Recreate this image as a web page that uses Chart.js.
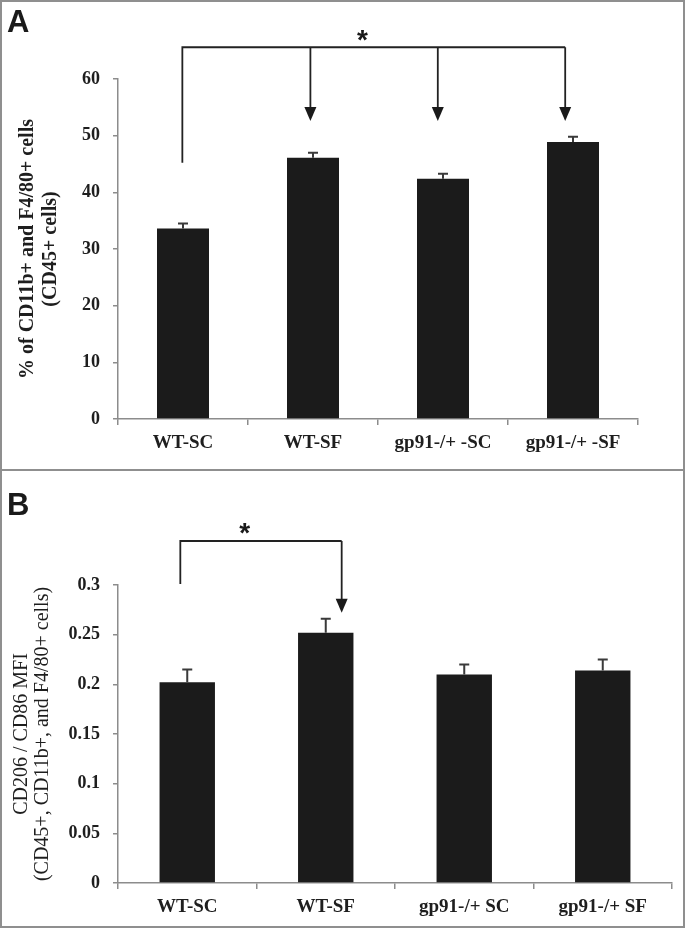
<!DOCTYPE html>
<html>
<head>
<meta charset="utf-8">
<script src="https://cdn.jsdelivr.net/npm/chart.js@4.4.1/dist/chart.umd.min.js"></script>
<style>
  body { margin: 0; background: #fff; }
  #page { position: relative; width: 685px; height: 928px; background: #fff; }
  canvas { position: absolute; left: 0; }
  #chartA { top: 0; }
  #chartB { top: 469px; }
  .frame { position: absolute; border: 2px solid #8f8f8f; box-sizing: border-box; pointer-events: none; }
</style>
</head>
<body>
<div id="page">
  <canvas id="chartA" width="685" height="469"></canvas>
  <canvas id="chartB" width="685" height="459"></canvas>
  <div class="frame" style="left:0;top:0;width:685px;height:471px"></div>
  <div class="frame" style="left:0;top:469px;width:685px;height:459px"></div>
</div>
<script>
// panel A data
var categoriesA = ['WT-SC', 'WT-SF', 'gp91-/+ -SC', 'gp91-/+ -SF'];
var valuesA = [33.6, 46.1, 42.4, 48.9];
var errorsA = [0.9, 0.9, 0.9, 0.9];
var yTicksA = [0, 10, 20, 30, 40, 50, 60];

// panel B data
var categoriesB = ['WT-SC', 'WT-SF', 'gp91-/+ SC', 'gp91-/+ SF'];
var valuesB = [0.202, 0.252, 0.210, 0.214];
var errorsB = [0.013, 0.014, 0.010, 0.011];
var yTicksB = [0, 0.05, 0.1, 0.15, 0.2, 0.25, 0.3];

// significance brackets (x in category index, y in axis units)
var sigA = { from: -0.005, to: [0.98, 1.96, 2.94], top: 65.6, fromBottom: 45.2, tip: 52.6, starX: 1.38, starY: 67.6 };
var sigB = { from: -0.05, to: [1.115], top: 0.3443, fromBottom: 0.301, tip: 0.272, starX: 0.415, starY: 0.356 };

var axisColor = '#8c8c8c';
var textColor = '#1e1e1e';

// 에러바 + 별표 + 패널 문자 그리는 플러그인
var extrasPlugin = {
  id: 'extras',
  afterDatasetsDraw: function(chart) {
    var o = chart.options.plugins.extras;
    var ctx = chart.ctx;
    var ys = chart.scales.y;
    var meta = chart.getDatasetMeta(0);
    ctx.save();
    ctx.strokeStyle = '#3a3a3a';
    ctx.lineWidth = 2;
    meta.data.forEach(function(bar, i) {
      var v = chart.data.datasets[0].data[i];
      var yTop = ys.getPixelForValue(v + o.errors[i]);
      var yBase = ys.getPixelForValue(v);
      ctx.beginPath();
      ctx.moveTo(bar.x, yBase);
      ctx.lineTo(bar.x, yTop);
      ctx.moveTo(bar.x - 5, yTop);
      ctx.lineTo(bar.x + 5, yTop);
      ctx.stroke();
    });
    ctx.restore();
  },
  afterDraw: function(chart) {
    var o = chart.options.plugins.extras;
    var sig = o.sig;
    var ctx = chart.ctx;
    var xs = chart.scales.x, ys = chart.scales.y;
    var x0 = xs.getPixelForValue(sig.from);
    var yTop = ys.getPixelForValue(sig.top);
    var tip = ys.getPixelForValue(sig.tip);
    var xEnds = sig.to.map(function(v) { return xs.getPixelForValue(v); });

    ctx.save();
    ctx.strokeStyle = '#222';
    ctx.fillStyle = '#1a1a1a';
    ctx.lineWidth = 1.8;
    ctx.beginPath();
    ctx.moveTo(x0, ys.getPixelForValue(sig.fromBottom));
    ctx.lineTo(x0, yTop);
    ctx.lineTo(xEnds[xEnds.length - 1], yTop);
    ctx.stroke();
    xEnds.forEach(function(x) {
      ctx.beginPath();
      ctx.moveTo(x, yTop);
      ctx.lineTo(x, tip - 10);
      ctx.stroke();
      ctx.beginPath();
      ctx.moveTo(x - 6, tip - 14);
      ctx.lineTo(x + 6, tip - 14);
      ctx.lineTo(x, tip);
      ctx.closePath();
      ctx.fill();
    });

    ctx.font = 'bold 28px "Liberation Sans"';
    ctx.textAlign = 'center';
    ctx.textBaseline = 'middle';
    ctx.fillText('*', xs.getPixelForValue(sig.starX), ys.getPixelForValue(sig.starY) + 5);

    // 패널 문자
    ctx.font = 'bold 31px "Liberation Sans"';
    ctx.textAlign = 'left';
    ctx.textBaseline = 'alphabetic';
    ctx.fillText(o.letter, 7, o.letterY);
    ctx.restore();
  }
};

function makeChart(canvasId, cats, vals, errs, yTicks, yMax, yTitle, titleFont, titlePad, pad, letter, letterY, sig, fmt) {
  var ctx = document.getElementById(canvasId).getContext('2d');
  return new Chart(ctx, {
    type: 'bar',
    data: {
      labels: cats,
      datasets: [{
        data: vals,
        backgroundColor: '#1b1b1b',
        borderWidth: 0,
        categoryPercentage: 1,
        barPercentage: 0.4
      }]
    },
    options: {
      responsive: false,
      animation: false,
      devicePixelRatio: 1,
      layout: { padding: pad },
      plugins: {
        legend: { display: false },
        tooltip: { enabled: false },
        extras: { errors: errs, sig: sig, letter: letter, letterY: letterY }
      },
      scales: {
        x: {
          grid: { display: true, drawOnChartArea: false, drawTicks: true, tickLength: 6, color: axisColor, lineWidth: 1.5, offset: true },
          border: { display: true, color: axisColor, width: 1.5 },
          ticks: {
            color: textColor,
            font: { family: 'Liberation Serif', size: 19, weight: 'bold' },
            padding: 7,
            maxRotation: 0,
            autoSkip: false
          },
          afterFit: function(s) { s.height = pad.bottomAxis; }
        },
        y: {
          min: 0,
          max: yMax,
          afterBuildTicks: function(s) {
            s.ticks = yTicks.map(function(v) { return { value: v }; });
          },
          grid: { display: true, drawOnChartArea: false, drawTicks: true, tickLength: 5, color: axisColor, lineWidth: 1.5 },
          border: { display: true, color: axisColor, width: 1.5 },
          ticks: {
            color: textColor,
            font: { family: 'Liberation Serif', size: 18, weight: 'bold' },
            padding: 13,
            callback: fmt
          },
          title: {
            display: true,
            text: yTitle,
            color: textColor,
            font: titleFont,
            padding: { top: titlePad, bottom: 0 }
          },
          afterFit: function(s) { s.width = 118; }
        }
      }
    },
    plugins: [extrasPlugin]
  });
}

makeChart('chartA', categoriesA, valuesA, errorsA, yTicksA, 60,
  ['% of CD11b+ and F4/80+ cells', '(CD45+ cells)'],
  { family: 'Liberation Serif', size: 20, weight: 'bold', lineHeight: 1.15 }, 16,
  { top: 79, right: 47, bottom: 0, left: 0, bottomAxis: 50 }, 'A', 32, sigA,
  function(v) { return String(v); });

makeChart('chartB', categoriesB, valuesB, errorsB, yTicksB, 0.3,
  ['CD206 / CD86 MFI', '(CD45+, CD11b+, and F4/80+ cells)'],
  { family: 'Liberation Serif', size: 20, weight: 'normal', lineHeight: 1.05 }, 11,
  { top: 116, right: 13, bottom: 0, left: 0, bottomAxis: 45 }, 'B', 46, sigB,
  function(v) { return String(Number(v.toFixed(2))); });
</script>
</body>
</html>
